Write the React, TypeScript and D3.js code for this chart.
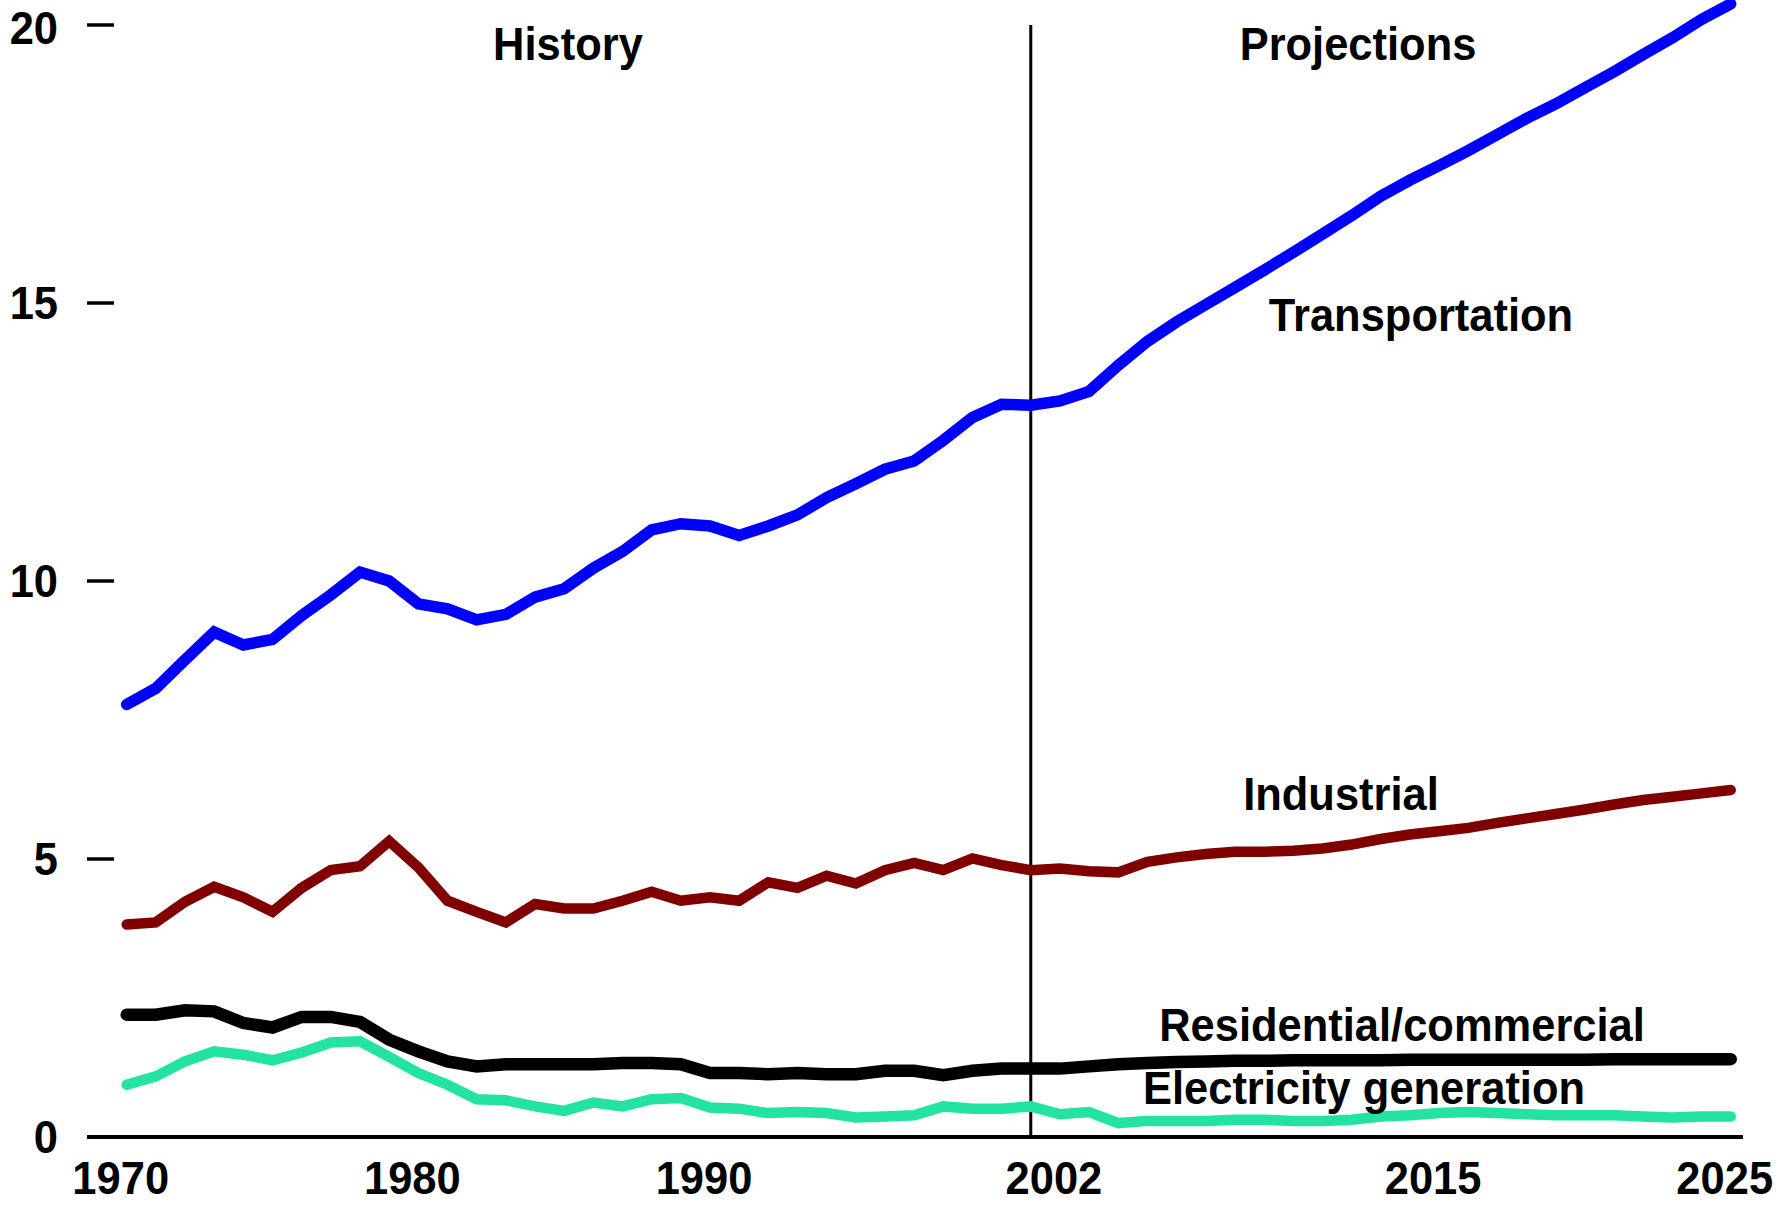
import React from "react";
import * as d3 from "d3";

// petroleum consumption by sector, 1970-2025 (one value per year)
const firstYear = 1970;
const lastYear = 2025;
const dividerYear = 2001; // history / projections split line

const transportation = [
  7.78, 8.07, 8.58, 9.08, 8.85, 8.95, 9.38, 9.75, 10.16, 10.0,
  9.59, 9.5, 9.3, 9.4, 9.71, 9.86, 10.23, 10.53, 10.92, 11.03,
  10.99, 10.82, 10.99, 11.19, 11.5, 11.75, 12.01, 12.16, 12.53, 12.94,
  13.18, 13.16, 13.24, 13.41, 13.88, 14.31, 14.66, 14.97, 15.28, 15.59,
  15.91, 16.24, 16.57, 16.92, 17.21, 17.47, 17.74, 18.03, 18.32, 18.58,
  18.87, 19.16, 19.47, 19.77, 20.1, 20.38,
];
const industrial = [
  3.82, 3.86, 4.23, 4.5, 4.31, 4.05, 4.48, 4.8, 4.87, 5.32,
  4.85, 4.25, 4.05, 3.86, 4.19, 4.11, 4.11, 4.25, 4.41, 4.25,
  4.31, 4.25, 4.58, 4.48, 4.7, 4.56, 4.8, 4.93, 4.8, 5.01,
  4.89, 4.8, 4.83, 4.78, 4.76, 4.95, 5.03, 5.09, 5.13, 5.13,
  5.15, 5.19, 5.26, 5.36, 5.44, 5.5, 5.56, 5.65, 5.73, 5.81,
  5.89, 5.98, 6.06, 6.12, 6.18, 6.24,
];
const residential = [
  2.2, 2.2, 2.28, 2.26, 2.05, 1.97, 2.16, 2.16, 2.07, 1.75,
  1.54, 1.36, 1.27, 1.31, 1.31, 1.31, 1.31, 1.33, 1.33, 1.31,
  1.15, 1.15, 1.13, 1.15, 1.13, 1.13, 1.19, 1.19, 1.11, 1.19,
  1.23, 1.23, 1.23, 1.27, 1.31, 1.33, 1.35, 1.36, 1.37, 1.37,
  1.38, 1.38, 1.38, 1.38, 1.39, 1.39, 1.39, 1.39, 1.39, 1.39,
  1.39, 1.4, 1.4, 1.4, 1.4, 1.4,
];
const electricity = [
  0.94, 1.09, 1.36, 1.54, 1.48, 1.38, 1.52, 1.7, 1.72, 1.44,
  1.15, 0.94, 0.68, 0.66, 0.55, 0.47, 0.62, 0.55, 0.68, 0.7,
  0.53, 0.51, 0.43, 0.45, 0.43, 0.35, 0.37, 0.39, 0.55, 0.51,
  0.51, 0.55, 0.41, 0.45, 0.25, 0.29, 0.29, 0.29, 0.31, 0.31,
  0.29, 0.29, 0.31, 0.37, 0.39, 0.43, 0.45, 0.43, 0.41, 0.39,
  0.39, 0.39, 0.37, 0.35, 0.37, 0.37,
];

const yTicks = [0, 5, 10, 15, 20];
const xTickYears = [1970, 1980, 1990, 2002, 2015, 2025];

const W = 1790;
const H = 1206;
const font = "'Liberation Sans', Arial, sans-serif";
const squeeze = 0.925;

function Label({ x, y, text, anchor = "middle" }: { x: number; y: number; text: string; anchor?: string }) {
  return (
    <text
      transform={`translate(${x},${y}) scale(${squeeze},1)`}
      textAnchor={anchor}
      fontFamily={font}
      fontWeight="bold"
      fontSize={47}
      fill="#000"
    >
      {text}
    </text>
  );
}

export default function App() {
  const years = d3.range(firstYear, lastYear + 1);
  const x = d3.scaleLinear().domain([firstYear, lastYear]).range([126.7, 1730.7]);
  const y = d3.scaleLinear().domain([0, 20]).range([1137, 25]);

  const line = d3
    .line<number>()
    .x((_, i) => x(years[i]))
    .y((d) => y(d));

  const series = [
    { values: electricity, color: "#22E3A1", width: 10.5 },
    { values: residential, color: "#000000", width: 12.5 },
    { values: industrial, color: "#800000", width: 10.5 },
    { values: transportation, color: "#0000FF", width: 11.5 },
  ];

  return (
    <svg
      width={W}
      height={H}
      style={{ position: "absolute", left: 0, top: 0, background: "#fff" }}
    >
      {/* y ticks */}
      {yTicks.map((t) => (
        <g key={t}>
          <line x1={87} x2={114} y1={y(t)} y2={y(t)} stroke="#000" strokeWidth={3.5} />
          <Label x={58} y={Math.max(y(t) + 16, 44)} text={String(t)} anchor="end" />
        </g>
      ))}
      {/* baseline */}
      <line x1={87} x2={1743} y1={y(0)} y2={y(0)} stroke="#000" strokeWidth={4} />
      {/* history / projections divider */}
      <line
        x1={x(dividerYear)}
        x2={x(dividerYear)}
        y1={y(20)}
        y2={y(0)}
        stroke="#000"
        strokeWidth={3}
      />
      {/* x tick labels */}
      {xTickYears.map((yr) => (
        <Label key={yr} x={x(yr) - 6} y={1194} text={String(yr)} />
      ))}

      {series.map((s, i) => (
        <path
          key={i}
          d={line(s.values) ?? ""}
          fill="none"
          stroke={s.color}
          strokeWidth={s.width}
          strokeLinecap="round"
          strokeLinejoin="miter"
        />
      ))}

      <Label x={568} y={60} text="History" />
      <Label x={1358} y={60} text="Projections" />
      <Label x={1421} y={331} text="Transportation" />
      <Label x={1341} y={810} text="Industrial" />
      <Label x={1402} y={1041} text="Residential/commercial" />
      <Label x={1364} y={1104} text="Electricity generation" />
    </svg>
  );
}
